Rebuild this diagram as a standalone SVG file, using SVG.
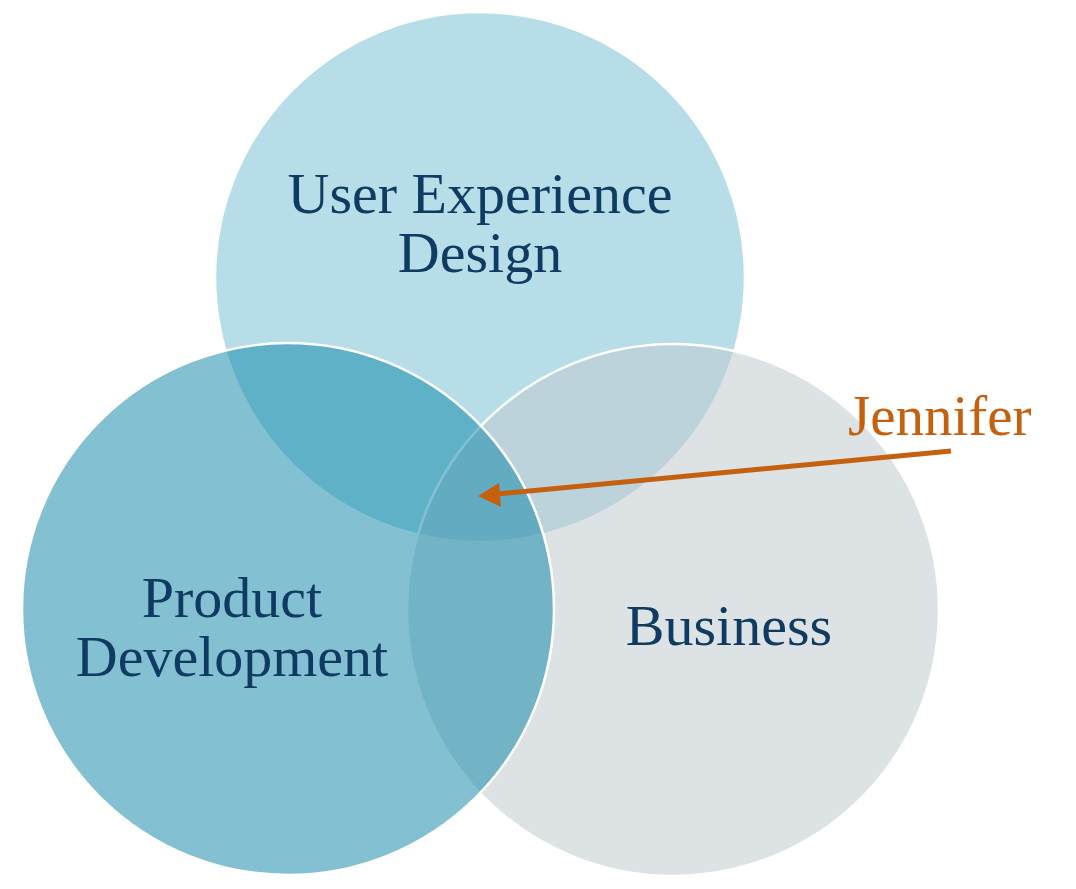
<svg xmlns="http://www.w3.org/2000/svg" width="1076" height="889" viewBox="0 0 1076 889">
  <defs>
    <style>
      .circle { stroke: #ffffff; stroke-width: 2.5; }
      .label { font-family: "Liberation Serif", "Times New Roman", serif; font-size: 58px; fill: #0F3B62; text-anchor: middle; }
      .name { font-family: "Liberation Serif", "Times New Roman", serif; font-size: 57px; fill: #C5600F; }
      .arrow { stroke: #C5600F; stroke-width: 5; fill: none; }
    </style>
    <marker id="ah" markerWidth="6" markerHeight="6" refX="1.2" refY="3" orient="auto" markerUnits="strokeWidth" viewBox="0 0 6 6">
      <path d="M0,3 L4,0.2 L4,5.8 Z" fill="#C5600F" transform="translate(0,0)"/>
    </marker>
  </defs>
  <rect width="1076" height="889" fill="#ffffff"/>
  <g id="node-ux">
    <circle class="circle" cx="480" cy="277" r="265" fill="#B7DEE8"/>
    <text class="label" x="480" y="213">User Experience</text>
    <text class="label" x="480" y="272">Design</text>
  </g>
  <g id="node-business">
    <circle class="circle" cx="673" cy="610" r="266" fill="rgb(193,202,207)" fill-opacity="0.55"/>
    <text class="label" x="729" y="645">Business</text>
  </g>
  <g id="node-product">
    <circle class="circle" cx="288" cy="609" r="266" fill="rgb(8,131,165)" fill-opacity="0.5"/>
    <text class="label" x="232" y="617">Product</text>
    <text class="label" x="232" y="676">Development</text>
  </g>
  <g id="node-jennifer">
    <text class="name" x="848" y="435">Jennifer</text>
  </g>
  <g id="connectors">
    <line class="arrow" x1="951" y1="451" x2="497" y2="494" />
    <path d="M478,496 L499,483 L501,507 Z" fill="#C5600F"/>
  </g>
</svg>
